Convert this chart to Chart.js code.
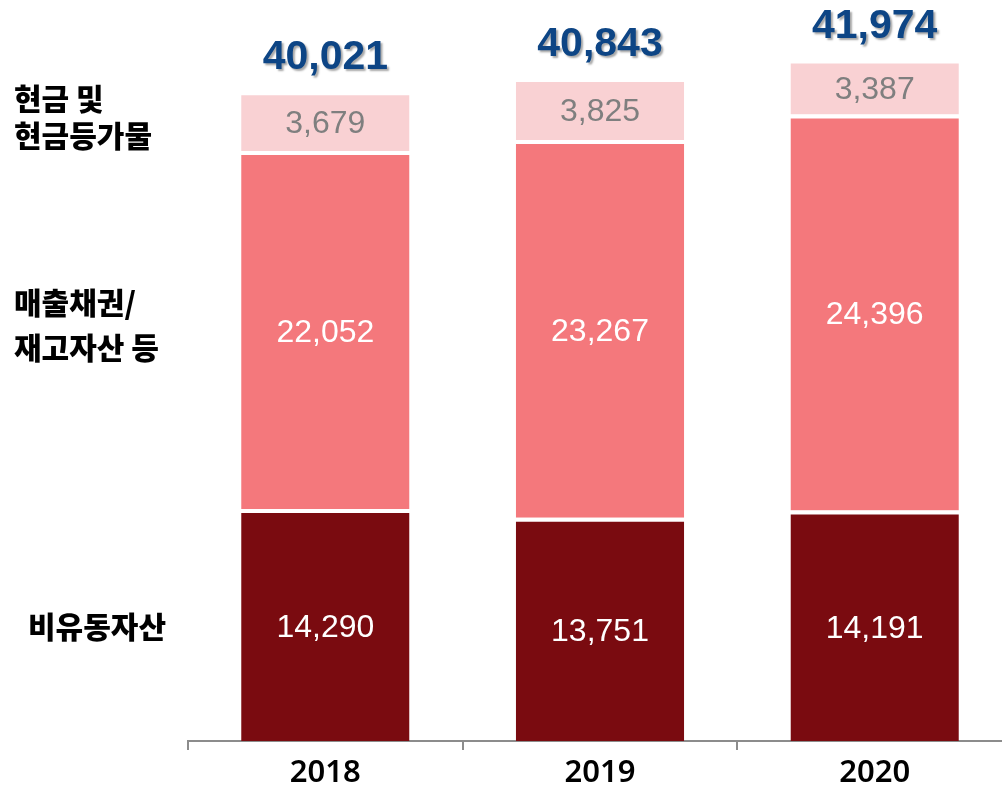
<!DOCTYPE html>
<html>
<head>
<meta charset="utf-8">
<script src="https://cdn.jsdelivr.net/npm/chart.js@4/dist/chart.umd.min.js"></script>
<style>
  html, body { margin: 0; padding: 0; background: #fff; overflow: hidden; }
  #wrap { width: 1012px; height: 787px; }
</style>
</head>
<body>
<div id="wrap"><canvas id="c" width="1012" height="787"></canvas></div>
<script>
// 데이터
const years = ['2018', '2019', '2020'];
const nonCurrent = [14290, 13751, 14191];      // 비유동자산
const receivables = [22052, 23267, 24396];     // 매출채권/재고자산 등
const cash = [3679, 3825, 3387];               // 현금 및 현금등가물
const totals = [40021, 40843, 41974];
const seriesNames = [['비유동자산'], ['매출채권/', '재고자산 등'], ['현금 및', '현금등가물']];

const fmtNum = v => v.toLocaleString('en-US');

// 세그먼트 값 + 합계 + 좌측 시리즈명 그리기
const labelPlugin = {
  id: 'labels',
  afterDatasetsDraw(chart) {
    const ctx = chart.ctx;
    ctx.save();
    ctx.textAlign = 'center';
    ctx.textBaseline = 'middle';
    const textColors = ['#ffffff', '#ffffff', '#7f7f7f'];
    chart.data.datasets.forEach((ds, di) => {
      const meta = chart.getDatasetMeta(di);
      meta.data.forEach((bar, i) => {
        ctx.font = '32px "Liberation Sans", Arial, sans-serif';
        ctx.fillStyle = textColors[di];
        ctx.fillText(fmtNum(ds.data[i]), bar.x, (bar.y + bar.base) / 2 + 3);
      });
    });

    // 합계
    const top = chart.getDatasetMeta(2);
    ctx.font = 'bold 41px "Liberation Sans", Arial, sans-serif';
    ctx.textBaseline = 'alphabetic';
    ctx.shadowColor = 'rgba(0,0,0,0.35)';
    ctx.shadowOffsetX = 2;
    ctx.shadowOffsetY = 2;
    ctx.shadowBlur = 2;
    ctx.fillStyle = '#0d4585';
    top.data.forEach((bar, i) => {
      ctx.fillText(fmtNum(totals[i]), bar.x, bar.y - 22);
    });
    ctx.shadowColor = 'transparent';

    // 좌측 시리즈명 (2018 막대 기준)
    ctx.font = '900 30px "Noto Sans CJK KR", sans-serif';
    ctx.fillStyle = '#000';
    ctx.textAlign = 'left';
    ctx.textBaseline = 'middle';
    const lefts = [28, 14, 14];
    const offsets = [2, -5, -4];
    seriesNames.forEach((lines, di) => {
      const bar = chart.getDatasetMeta(di).data[0];
      const mid = (bar.y + bar.base) / 2 + offsets[di];
      const lh = di === 1 ? 45 : 37;
      const start = mid - (lines.length - 1) * lh / 2;
      lines.forEach((t, k) => ctx.fillText(t, lefts[di], start + k * lh));
    });
    ctx.restore();
  }
};

const barStyle = {
  borderColor: '#ffffff',
  borderWidth: { top: 4, left: 0, right: 0, bottom: 0 },
  borderSkipped: false,
  barPercentage: 1,
  categoryPercentage: 0.613
};

new Chart(document.getElementById('c'), {
  type: 'bar',
  data: {
    labels: years,
    datasets: [
      { label: '비유동자산', data: nonCurrent, backgroundColor: '#7a0b10', ...barStyle },
      { label: '매출채권/재고자산 등', data: receivables, backgroundColor: '#f4787c', ...barStyle },
      { label: '현금 및 현금등가물', data: cash, backgroundColor: '#f9d1d3', ...barStyle }
    ]
  },
  options: {
    responsive: false,
    animation: false,
    layout: { padding: { left: 188, top: 15, right: 0, bottom: 0 } },
    plugins: { legend: { display: false }, tooltip: { enabled: false } },
    scales: {
      x: {
        stacked: true,
        offset: true,
        grid: { display: true, drawOnChartArea: false, offset: true, color: '#8c8c8c', lineWidth: 2, tickLength: 9 },
        border: { color: '#8c8c8c', width: 2 },
        ticks: { color: '#000', padding: 5, font: { family: '"Noto Sans", sans-serif', size: 31, weight: '600' } },
        afterFit(scale) { scale.height = 46; }
      },
      y: { stacked: true, display: false, min: 0, max: 44720 }
    }
  },
  plugins: [labelPlugin]
});
</script>
</body>
</html>
